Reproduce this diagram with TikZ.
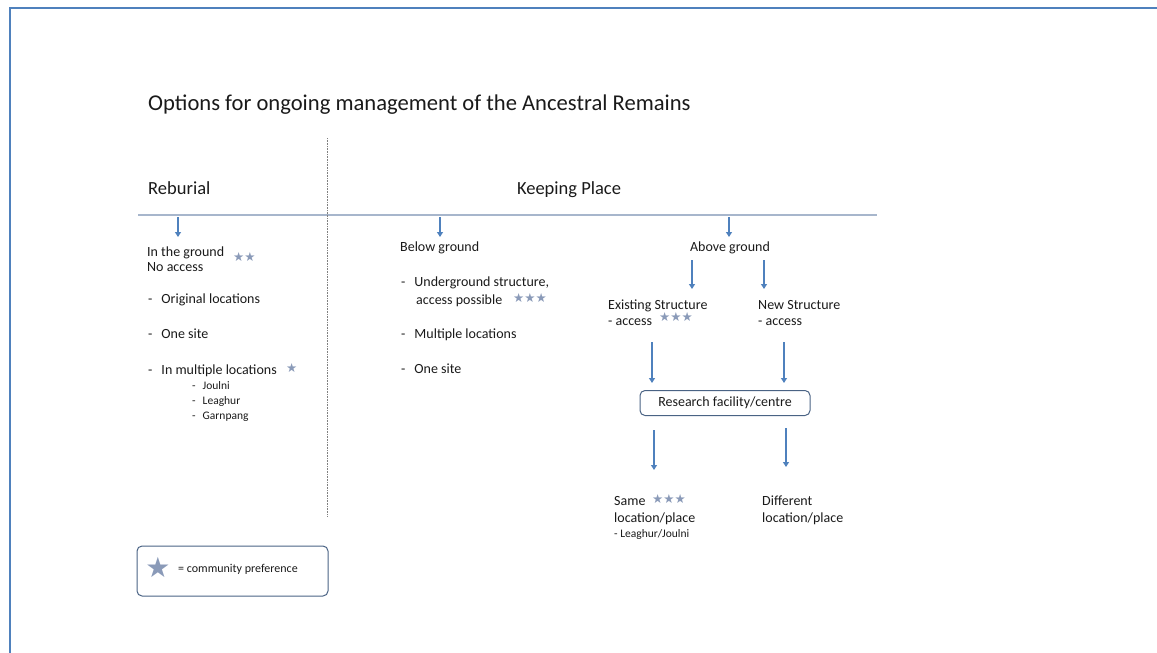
\documentclass[tikz,border=0pt]{standalone}
\usepackage{fontspec}
\setmainfont{Carlito}
\newfontfamily\symfont{DejaVu Sans}
\usetikzlibrary{arrows.meta}
\definecolor{arrowblue}{HTML}{4F81BD}
\definecolor{stargrey}{HTML}{8A9AB8}
\definecolor{rulegrey}{HTML}{A7B6CC}
\definecolor{boxline}{HTML}{4A6384}
\definecolor{txt}{HTML}{1A1A1A}
\tikzset{
  lbl/.style={anchor=base west, inner sep=0pt, text=txt, font=\fontsize{14}{16}\selectfont},
  small/.style={anchor=base west, inner sep=0pt, text=txt, font=\fontsize{11.5}{13}\selectfont},
  hdr/.style={anchor=base west, inner sep=0pt, text=txt, font=\fontsize{18.5}{21}\selectfont},
  stars/.style={anchor=base west, inner sep=0pt, text=stargrey, font=\symfont\fontsize{12.5}{13}\selectfont},
  flow/.style={draw=arrowblue, line width=1.3pt, -{Triangle[length=5pt,width=6pt]}},
  rbox/.style={draw=boxline, line width=1pt, rounded corners=5pt}
}
\begin{document}
\begin{tikzpicture}[x=1pt,y=-1pt]
\useasboundingbox (0,0) rectangle (1157,653);
% frame
\draw[arrowblue, line width=2pt] (9.5,660) -- (9.5,7.5) -- (1170,7.5);
% title
\node[anchor=base west, inner sep=0pt, text=txt, font=\fontsize{22.6}{26}\selectfont] (title) at (148,110) {Options for ongoing management of the Ancestral Remains};
% headers
\node[hdr] (reb) at (148,194) {Reburial};
\node[hdr, anchor=base] (keep) at (569,194) {Keeping Place};
% rules
\coordinate (hl) at (138,215);
\coordinate (hr) at (877,215);
\draw[rulegrey, line width=1.2pt] (hl) -- (hr);
\coordinate (vt) at (327,138);
\coordinate (vb) at (327,516);
\draw[gray, line width=0.6pt, densely dotted] (vt) -- (vb);
% Reburial column
\coordinate (a1s) at (178,217);
\coordinate (a1e) at (178,237);
\node[lbl] (ground) at (147,256) {In the ground};
\node[lbl] (noacc) at (147,271) {No access};
\node[stars] (s2) at (233,261) {★★};
\draw[flow] (a1s) -- (a1e);
\node[lbl] (orig) at (148,303) {-\hspace{9pt}Original locations};
\node[lbl] (one1) at (148,338) {-\hspace{9pt}One site};
\node[lbl] (mult) at (148,374) {-\hspace{9pt}In multiple locations};
\node[stars] (s1) at (286,372) {★};
\node[small] (joul) at (192,389) {-\hspace{7pt}Joulni};
\node[small] (leag) at (192,404) {-\hspace{7pt}Leaghur};
\node[small] (garn) at (192,419) {-\hspace{7pt}Garnpang};
% Below ground
\coordinate (a2s) at (440,217);
\coordinate (a2e) at (440,237);
\node[lbl] (below) at (400,251) {Below ground};
\draw[flow] (a2s) -- (a2e);
\node[lbl] (under) at (401,286) {-\hspace{9pt}Underground structure,};
\node[lbl] (accp) at (416,304) {access possible};
\node[stars] (s3) at (513,302) {★★★};
\node[lbl] (mloc) at (401,338) {-\hspace{9pt}Multiple locations};
\node[lbl] (one2) at (401,373) {-\hspace{9pt}One site};
% Above ground
\coordinate (a3s) at (729,217);
\coordinate (a3e) at (729,237);
\node[lbl, anchor=base] (above) at (730,251) {Above ground};
\draw[flow] (a3s) -- (a3e);
\node[lbl] (exist) at (608,309) {Existing Structure};
\node[lbl] (exacc) at (608,325) {- access};
\node[stars] (s4) at (659,321) {★★★};
\node[lbl] (newst) at (758,309) {New Structure};
\node[lbl] (newacc) at (758,325) {- access};
\draw[flow] (692,260) -- (692,289);
\draw[flow] (764,260) -- (764,289);
% research box
\node[rbox, minimum width=170pt, minimum height=25pt, inner sep=0pt, text=txt, font=\fontsize{14}{16}\selectfont] (res) at (725,403) {Research facility/centre};
\draw[flow] (652,342) -- (652,383);
\draw[flow] (784,342) -- (784,383);
\draw[flow] (654,430) -- (654,470);
\draw[flow] (786,428) -- (786,467);
% outcomes
\node[lbl] (same) at (614,505) {Same};
\node[stars] (s5) at (652,503) {★★★};
\node[lbl] (sloc) at (614,522) {location/place};
\node[small] (sleag) at (614,537) {- Leaghur/Joulni};
\node[lbl] (diff) at (762,505) {Different};
\node[lbl] (dloc) at (762,522) {location/place};
% legend
\node[rbox, minimum width=191pt, minimum height=50pt, inner sep=0pt] (legend) at (232.5,571) {};
\node[anchor=center, inner sep=0pt, text=stargrey, font=\symfont\fontsize{28}{30}\selectfont] (bigstar) at (158,567) {★};
\node[anchor=west, inner sep=0pt, text=txt, font=\fontsize{12}{14}\selectfont] (pref) at (178,569) {= community preference};
\end{tikzpicture}
\end{document}
